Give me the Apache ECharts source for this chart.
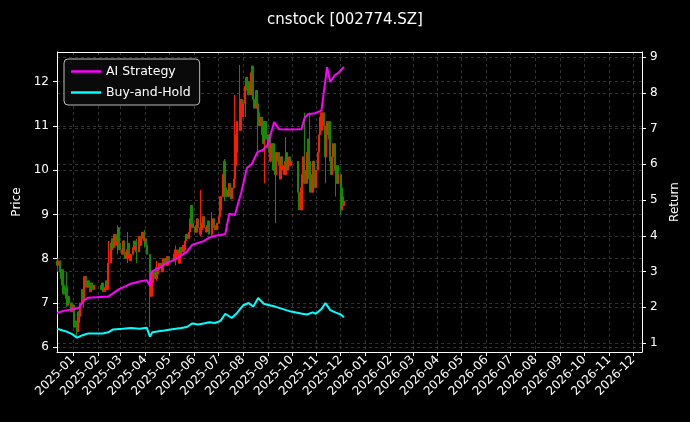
<!DOCTYPE html>
<html><head><meta charset="utf-8">
<script src="https://cdn.jsdelivr.net/npm/echarts@6/dist/echarts.min.js"></script>
<style>html,body{margin:0;background:#000}#c{width:690px;height:422px}</style>
</head><body><div id="c"></div>
<script>
const title = 'cnstock [002774.SZ]';
const holidays = ['2025-01-01','2025-01-28','2025-01-29','2025-01-30','2025-01-31','2025-02-03','2025-02-04','2025-04-04','2025-05-01','2025-05-02','2025-05-05','2025-06-02','2025-10-01','2025-10-02','2025-10-03','2025-10-06','2025-10-07','2025-10-08'];
const closes = [
 // Dec 2024
 7.85,7.95,7.70,7.55,7.75,7.40,7.20,7.35,7.10,6.95,7.15,7.00,6.80,6.95,
 // Jan
 6.60,6.45,6.35,6.55,6.80,6.70,7.00,7.30,7.10,7.45,7.60,7.35,7.50,7.40,7.25,7.45,7.30,7.40,
 // Feb
 7.30,7.45,7.25,7.35,7.50,7.30,7.40,7.90,8.35,8.20,8.45,8.25,8.55,8.30,8.40,8.70,8.35,8.20,
 // Mar
 8.10,8.25,8.40,8.15,8.00,8.20,8.35,8.10,7.95,8.10,8.25,8.40,8.20,8.30,8.15,8.35,8.50,8.30,8.45,8.60,8.40,
 // Apr
 8.45,8.30,8.10,7.30,7.15,7.45,7.60,7.70,7.55,7.80,7.65,7.75,7.90,7.80,7.70,7.85,8.00,7.90,7.85,8.05,7.95,
 // May
 7.95,8.10,8.00,8.20,8.05,7.90,8.10,8.25,8.15,8.30,8.20,8.40,8.55,8.45,8.60,8.90,9.20,8.80,8.70,
 // Jun
 8.60,8.75,8.90,8.70,8.55,8.65,8.80,8.95,8.70,8.60,8.75,8.85,8.70,8.55,8.70,8.80,8.90,8.75,8.65,8.80,
 // Jul
 8.80,8.95,9.10,9.40,9.90,10.20,9.80,9.60,9.40,9.55,9.70,9.50,9.35,9.60,9.80,10.10,10.40,10.80,11.10,10.90,11.40,11.60,11.20,
 // Aug
 11.50,11.90,12.10,11.80,12.00,11.70,12.20,12.35,11.90,11.60,11.40,11.80,11.50,11.30,11.00,11.20,10.80,10.60,10.90,11.10,10.70,
 // Sep
 10.50,10.80,10.40,10.20,10.60,10.00,10.30,9.90,10.20,10.40,10.10,9.80,10.00,10.30,10.10,9.90,10.20,10.40,10.00,10.30,10.10,10.20,
 // Oct
 9.50,9.10,9.60,9.90,10.30,10.00,9.70,10.40,10.70,10.20,9.80,9.50,9.90,10.20,9.70,9.60,10.00,
 // Nov
 10.40,10.80,11.20,10.90,11.30,11.00,10.60,10.30,10.80,11.10,10.70,10.20,9.90,10.30,10.60,10.00,9.80,10.10,9.70,9.90,
 // Dec
 9.60,9.10,9.40,9.20,9.30
];
const wicks = [ // [trading-day index, low, high]
 [1,7.70,8.00],[8,6.90,7.70],[16,6.25,6.60],[22,6.90,7.60],[39,7.80,8.40],[47,8.10,8.75],[55,7.90,8.60],[64,7.90,8.45],[70,8.25,8.65],
 [74,6.45,8.10],[80,7.50,7.95],[95,7.85,8.30],[116,8.50,9.55],[125,8.50,9.05],[137,9.30,10.25],[146,10.80,11.70],[150,11.80,12.38],
 [156,11.20,12.05],[166,10.30,11.20],[173,9.70,10.40],[183,8.80,9.60],[192,10.10,10.75],[203,10.40,11.30],[208,10.60,11.30],[221,9.70,10.30],[230,9.40,10.00],[234,9.00,9.80]
];
const aiStrategy = [
 ['2024-12-12',1.84],['2024-12-20',1.90],['2025-01-03',1.95],['2025-01-09',2.00],['2025-01-15',2.20],['2025-01-20',2.27],['2025-02-14',2.30],['2025-02-27',2.50],
 ['2025-03-13',2.65],['2025-03-25',2.72],['2025-04-03',2.76],['2025-04-07',2.60],['2025-04-09',3.00],['2025-04-18',3.10],
 ['2025-04-25',3.20],['2025-05-09',3.35],['2025-05-16',3.45],['2025-05-23',3.55],['2025-05-30',3.75],['2025-06-06',3.80],['2025-06-13',3.85],['2025-06-20',3.95],
 ['2025-06-27',4.00],['2025-07-04',4.02],['2025-07-10',4.05],['2025-07-15',4.62],['2025-07-22',4.58],['2025-07-30',5.22],['2025-08-06',5.90],['2025-08-12',6.00],
 ['2025-08-19',6.34],['2025-08-26',6.40],['2025-09-01',6.55],['2025-09-09',7.18],['2025-09-15',6.98],['2025-09-25',6.97],['2025-10-13',6.98],['2025-10-17',7.30],
 ['2025-10-21',7.40],['2025-10-30',7.43],['2025-11-07',7.50],['2025-11-14',8.72],['2025-11-18',8.30],['2025-11-24',8.50],['2025-11-28',8.55],['2025-12-05',8.72]
];
const buyHold = [
 ['2024-12-12',1.40],['2024-12-18',1.36],['2024-12-24',1.32],['2024-12-31',1.25],['2025-01-06',1.15],['2025-01-13',1.22],['2025-01-20',1.27],['2025-02-07',1.27],
 ['2025-02-14',1.30],['2025-02-20',1.38],['2025-03-04',1.40],['2025-03-14',1.42],['2025-03-25',1.40],['2025-04-03',1.43],['2025-04-07',1.18],['2025-04-10',1.30],['2025-04-18',1.33],
 ['2025-04-25',1.35],['2025-05-09',1.40],['2025-05-16',1.42],['2025-05-23',1.45],['2025-05-30',1.55],['2025-06-06',1.52],['2025-06-13',1.55],['2025-06-20',1.58],
 ['2025-06-27',1.56],['2025-07-04',1.62],['2025-07-10',1.82],['2025-07-18',1.70],['2025-07-25',1.85],['2025-08-01',2.05],['2025-08-08',2.12],['2025-08-14',2.02],
 ['2025-08-20',2.26],['2025-08-27',2.10],['2025-09-03',2.06],['2025-09-10',2.02],['2025-09-17',1.97],['2025-09-24',1.92],['2025-09-30',1.88],['2025-10-14',1.82],
 ['2025-10-20',1.80],['2025-10-27',1.86],['2025-10-31',1.82],['2025-11-07',1.95],['2025-11-12',2.12],['2025-11-18',1.92],['2025-11-25',1.85],['2025-12-01',1.80],['2025-12-05',1.72]
];

// trading dates (weekdays minus holidays)
const dates = [];
for (let d = new Date(Date.UTC(2024,11,12)); dates.length < closes.length; d.setUTCDate(d.getUTCDate()+1)) {
  const w = d.getUTCDay(); const s = d.toISOString().slice(0,10);
  if (w !== 0 && w !== 6 && !holidays.includes(s)) dates.push(s);
}
const candles = closes.map((c,i) => {
  const o = i === 0 ? 7.95 : closes[i-1];
  let lo = Math.min(o,c), hi = Math.max(o,c);
  const w = wicks.find(x => x[0] === i); if (w) { lo = Math.min(lo,w[1]); hi = Math.max(hi,w[2]); }
  return [dates[i], o, c, lo, hi];
});

const font = 'DejaVu Sans';
const gridLine = {show:true, lineStyle:{color:'#555', type:[3,3], width:0.6}};
const chart = echarts.init(document.getElementById('c'));
chart.setOption({
  backgroundColor:'#000',
  animation:false,
  textStyle:{fontFamily:font, color:'#fff'},
  title:{text:title, left:'center', top:8, textStyle:{color:'#fff', fontSize:15, fontWeight:'normal', fontFamily:font}},
  legend:{data:['AI Strategy','Buy-and-Hold'], orient:'vertical', left:64, top:59, itemGap:8,
    backgroundColor:'#0a0a0a', borderColor:'#bbb', borderWidth:1, borderRadius:4, padding:[6,9,6,7],
    icon:'rect', itemWidth:30, itemHeight:2.5, textStyle:{color:'#fff', fontSize:12.5, fontFamily:font}},
  grid:{left:57, right:48, top:52, bottom:70},
  xAxis:{type:'time', min:'2024-12-12', max:'2026-12-12', minInterval:28*86400000, maxInterval:31*86400000,
    axisLine:{lineStyle:{color:'#fff'}}, axisTick:{lineStyle:{color:'#fff'}, length:4},
    axisLabel:{color:'#fff', rotate:45, fontSize:12, fontFamily:font, formatter:'{yyyy}-{MM}', hideOverlap:false, margin:6},
    splitLine:gridLine},
  yAxis:[
    {type:'value', min:5.89, max:12.67, splitNumber:7, name:'Price', nameLocation:'middle', nameGap:34,
     nameTextStyle:{color:'#fff', fontSize:12, fontFamily:font},
     axisLine:{show:true, lineStyle:{color:'#fff'}}, axisTick:{show:true, length:4},
     axisLabel:{color:'#fff', fontSize:12, showMinLabel:false, showMaxLabel:false, formatter:v=>Number.isInteger(v)?v:''},
     splitLine:gridLine},
    {type:'value', min:0.75, max:9.14, splitNumber:8, name:'Return', nameLocation:'middle', nameGap:26,
     nameTextStyle:{color:'#fff', fontSize:12, fontFamily:font},
     axisLine:{show:true, lineStyle:{color:'#fff'}}, axisTick:{show:true, length:4},
     axisLabel:{color:'#fff', fontSize:12, showMinLabel:false, showMaxLabel:false, formatter:v=>Number.isInteger(v)?v:''},
     splitLine:gridLine}
  ],
  series:[
    {type:'candlestick', name:'Price', yAxisIndex:0, data:candles, barMaxWidth:2, barWidth:1.8,
     itemStyle:{color:'#ff1a00', color0:'#138a00', borderColor:'#ff1a00', borderColor0:'#138a00', borderWidth:1}},
    {type:'line', name:'AI Strategy', yAxisIndex:1, data:aiStrategy, showSymbol:false, lineStyle:{color:'#ff00ff', width:2}, itemStyle:{color:'#ff00ff'}},
    {type:'line', name:'Buy-and-Hold', yAxisIndex:1, data:buyHold, showSymbol:false, lineStyle:{color:'#00ffff', width:2}, itemStyle:{color:'#00ffff'}},
    {type:'line', yAxisIndex:0, data:[], markLine:{silent:true, symbol:'none', label:{show:false}, lineStyle:{color:'#fff', type:'solid', width:1},
      data:[[{x:57,y:52},{x:642,y:52}]]}}
  ]
});
</script></body></html>
